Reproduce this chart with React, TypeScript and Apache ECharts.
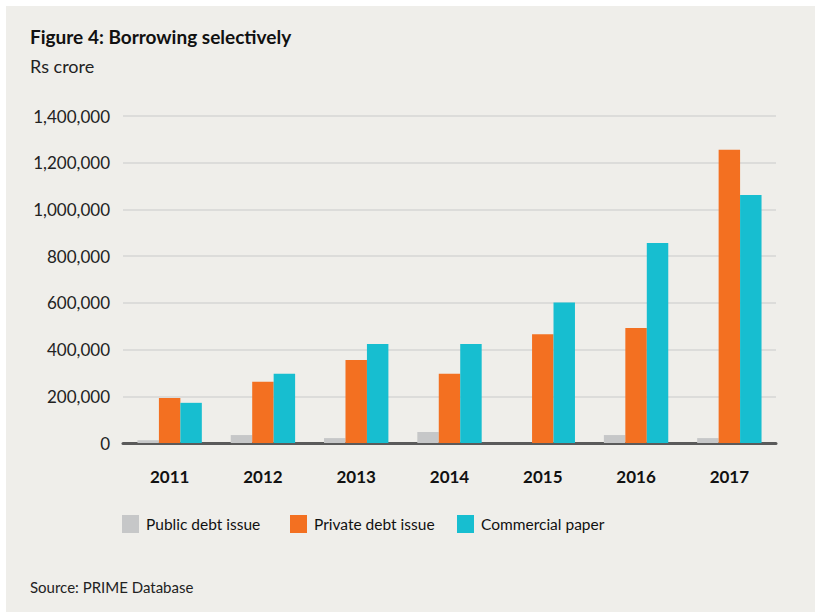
import React, { useEffect, useRef } from "react";
import * as echarts from "echarts";

const years = ["2011", "2012", "2013", "2014", "2015", "2016", "2017"];
const publicDebt = [12000, 34000, 21000, 47000, 0, 34000, 21000];
const privateDebt = [193000, 262000, 355000, 297000, 466000, 492000, 1255000];
const commercialPaper = [172000, 296000, 424000, 424000, 602000, 856000, 1062000];
const yTicks = [0, 200000, 400000, 600000, 800000, 1000000, 1200000, 1400000];
const seriesNames = ["Public debt issue", "Private debt issue", "Commercial paper"];

const FONT = "Lato";

export default function App() {
  const ref = useRef<HTMLDivElement>(null);
  useEffect(() => {
    const chart = echarts.init(ref.current!, null, { renderer: "svg" });
    const legendLefts = [117, 285, 452];
    chart.setOption({
      animation: false,
      backgroundColor: "#ffffff",
      textStyle: { fontFamily: FONT },
      graphic: [
        { type: "rect", z: -10, shape: { x: 6, y: 6, width: 815, height: 612 }, style: { fill: "#EFEEEA" } },
        { type: "text", left: 30, top: 27, style: { text: "Figure 4: Borrowing selectively", font: `bold 19px ${FONT}`, fill: "#111" } },
        { type: "text", left: 30, top: 57, style: { text: "Rs crore", font: `18px ${FONT}`, fill: "#222" } },
        { type: "text", left: 30, top: 579, style: { text: "Source: PRIME Database", font: `15px ${FONT}`, fill: "#222" } },
      ],
      legend: seriesNames.map((name, i) => ({
        left: legendLefts[i],
        top: 510,
        itemWidth: 17,
        itemHeight: 18,
        icon: "rect",
        textStyle: { fontSize: 15.5, color: "#111", fontFamily: FONT, padding: [0, 0, 0, 2] },
        data: [name],
      })),
      grid: { left: 123, right: 39, top: 116, bottom: 169, containLabel: false },
      xAxis: {
        type: "category",
        data: years,
        axisLine: { show: true, lineStyle: { color: "#5a5a5a", width: 3 } },
        axisTick: { show: false },
        axisLabel: { fontSize: 17, fontWeight: "bold", color: "#111", margin: 25, fontFamily: FONT },
      },
      yAxis: {
        type: "value",
        min: 0,
        max: 1400000,
        interval: 200000,
        axisLine: { show: false },
        axisTick: { show: false },
        axisLabel: {
          fontSize: 17,
          color: "#222",
          margin: 13,
          fontFamily: FONT,
          formatter: (v: number) => (yTicks.includes(v) ? v.toLocaleString("en-US") : ""),
        },
        splitLine: { lineStyle: { color: "#DCDCDA", width: 2 } },
      },
      series: [
        { name: seriesNames[0], type: "bar", data: publicDebt, itemStyle: { color: "#C6C7C8" }, barGap: "0%", barCategoryGap: "31%" },
        { name: seriesNames[1], type: "bar", data: privateDebt, itemStyle: { color: "#F37021" }, barGap: "0%", barCategoryGap: "31%" },
        { name: seriesNames[2], type: "bar", data: commercialPaper, itemStyle: { color: "#17BED0" }, barGap: "0%", barCategoryGap: "31%" },
      ],
    });
    return () => chart.dispose();
  }, []);
  return <div ref={ref} style={{ position: "fixed", left: 0, top: 0, width: 815, height: 612 }} />;
}
